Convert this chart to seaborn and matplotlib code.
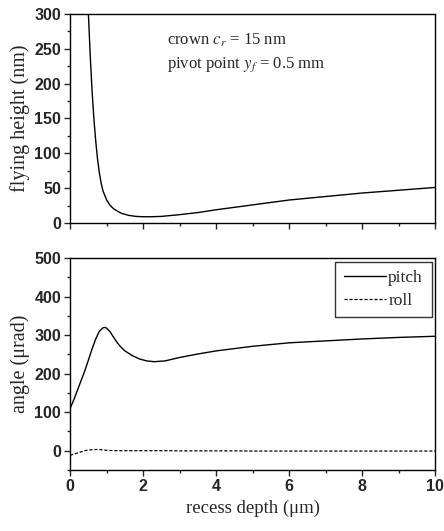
import numpy as np
import pandas as pd
import matplotlib
matplotlib.use("Agg")
import matplotlib.pyplot as plt
import seaborn as sns
from matplotlib.ticker import MultipleLocator

# flying height vs recess depth (top panel)
fh_depth = [0.45, 0.5, 0.55, 0.6, 0.65, 0.7, 0.75, 0.8, 0.85, 0.9, 1.0, 1.1, 1.2,
            1.4, 1.6, 1.8, 2.0, 2.2, 2.5, 3.0, 3.5, 4.0, 5.0, 6.0, 7.0, 8.0, 9.0, 10.0]
fh_height = [345, 300, 240, 190, 150, 118, 92, 72, 57, 46, 33, 25, 20,
             14, 11, 9.5, 9, 9, 9.5, 12, 15, 19, 26, 33, 38, 43, 47, 51]

# pitch and roll angles vs recess depth (bottom panel)
ang_depth = [0.0, 0.1, 0.2, 0.3, 0.4, 0.5, 0.6, 0.7, 0.8, 0.9, 0.95, 1.0, 1.1, 1.2,
             1.3, 1.4, 1.5, 1.7, 1.9, 2.1, 2.3, 2.6, 3.0, 3.5, 4.0, 4.5, 5.0,
             6.0, 7.0, 8.0, 9.0, 10.0]
pitch = [110, 132, 157, 182, 207, 235, 264, 290, 310, 319, 320, 318, 308, 293,
         279, 268, 259, 247, 238, 233, 231, 233, 242, 251, 259, 265, 271,
         280, 285, 290, 294, 297]
roll = [-12, -9, -6, -3, 0, 1.5, 2.5, 3, 3, 2, 1.5, 1, 0.5, 0, 0, 0, 0, 0, 0, 0,
        0, 0, -0.5, -0.5, -0.5, -0.5, -1, -1, -1, -1, -1, -1]

sns.set_style("ticks")
plt.rcParams["mathtext.fontset"] = "stix"
plt.rcParams["axes.linewidth"] = 1.0
plt.rcParams["xtick.direction"] = "out"
plt.rcParams["ytick.direction"] = "out"

serif = ["Liberation Serif", "DejaVu Serif"]
sans = ["Liberation Sans", "DejaVu Sans"]

fig = plt.figure(figsize=(4.44, 5.31), dpi=100)
ax1 = fig.add_axes([0.158, 0.580, 0.822, 0.394])
ax2 = fig.add_axes([0.158, 0.115, 0.822, 0.399])

df_fh = pd.DataFrame({"depth": fh_depth, "height": fh_height})
sns.lineplot(data=df_fh, x="depth", y="height", ax=ax1, color="black", linewidth=1.0)

df_ang = pd.DataFrame({"depth": ang_depth, "pitch": pitch, "roll": roll})
sns.lineplot(data=df_ang, x="depth", y="pitch", ax=ax2, color="black",
             linewidth=1.0, label="pitch")
sns.lineplot(data=df_ang, x="depth", y="roll", ax=ax2, color="black",
             linewidth=0.9, linestyle=(0, (2.5, 1.5)), label="roll")

for ax in (ax1, ax2):
    ax.set_xlim(0, 10)
    ax.xaxis.set_major_locator(MultipleLocator(2))
    ax.xaxis.set_minor_locator(MultipleLocator(1))
    ax.tick_params(which="major", length=4, width=1, pad=2.5)
    ax.tick_params(which="minor", length=2.5, width=1)
    for s in ax.spines.values():
        s.set_visible(True)
        s.set_color("black")

ax1.set_ylim(0, 300)
ax1.yaxis.set_major_locator(MultipleLocator(50))
ax1.yaxis.set_minor_locator(MultipleLocator(25))
ax1.set_xticklabels([])
ax1.set_xlabel("")
ax1.set_ylabel("flying height (nm)", fontsize=14.5, family=serif, labelpad=3)
ax1.text(0.266, 0.875, "crown $c_r$ = 15 nm", transform=ax1.transAxes,
         fontsize=12, family=serif, va="center")
ax1.text(0.266, 0.755, "pivot point $y_f$ = 0.5 mm", transform=ax1.transAxes,
         fontsize=12, family=serif, va="center")

ax2.set_ylim(-50, 500)
ax2.yaxis.set_major_locator(MultipleLocator(100))
ax2.yaxis.set_minor_locator(MultipleLocator(50))
ax2.set_xlabel("recess depth (μm)", fontsize=13.5, family=serif, labelpad=4)
ax2.set_ylabel("angle (μrad)", fontsize=14.5, family=serif, labelpad=3)

leg = ax2.legend(loc="upper right", frameon=True, fancybox=False, edgecolor="black",
                 handlelength=2.4, handletextpad=0.15, borderaxespad=0.2,
                 labelspacing=0.35, borderpad=0.5,
                 prop={"family": serif, "size": 12.5})
leg.get_frame().set_linewidth(1.0)

for ax in (ax1, ax2):
    for lab in ax.get_xticklabels() + ax.get_yticklabels():
        lab.set_family(sans)
        lab.set_fontsize(11.5)
        lab.set_weight("bold")

fig.savefig("out.png", dpi=100)
